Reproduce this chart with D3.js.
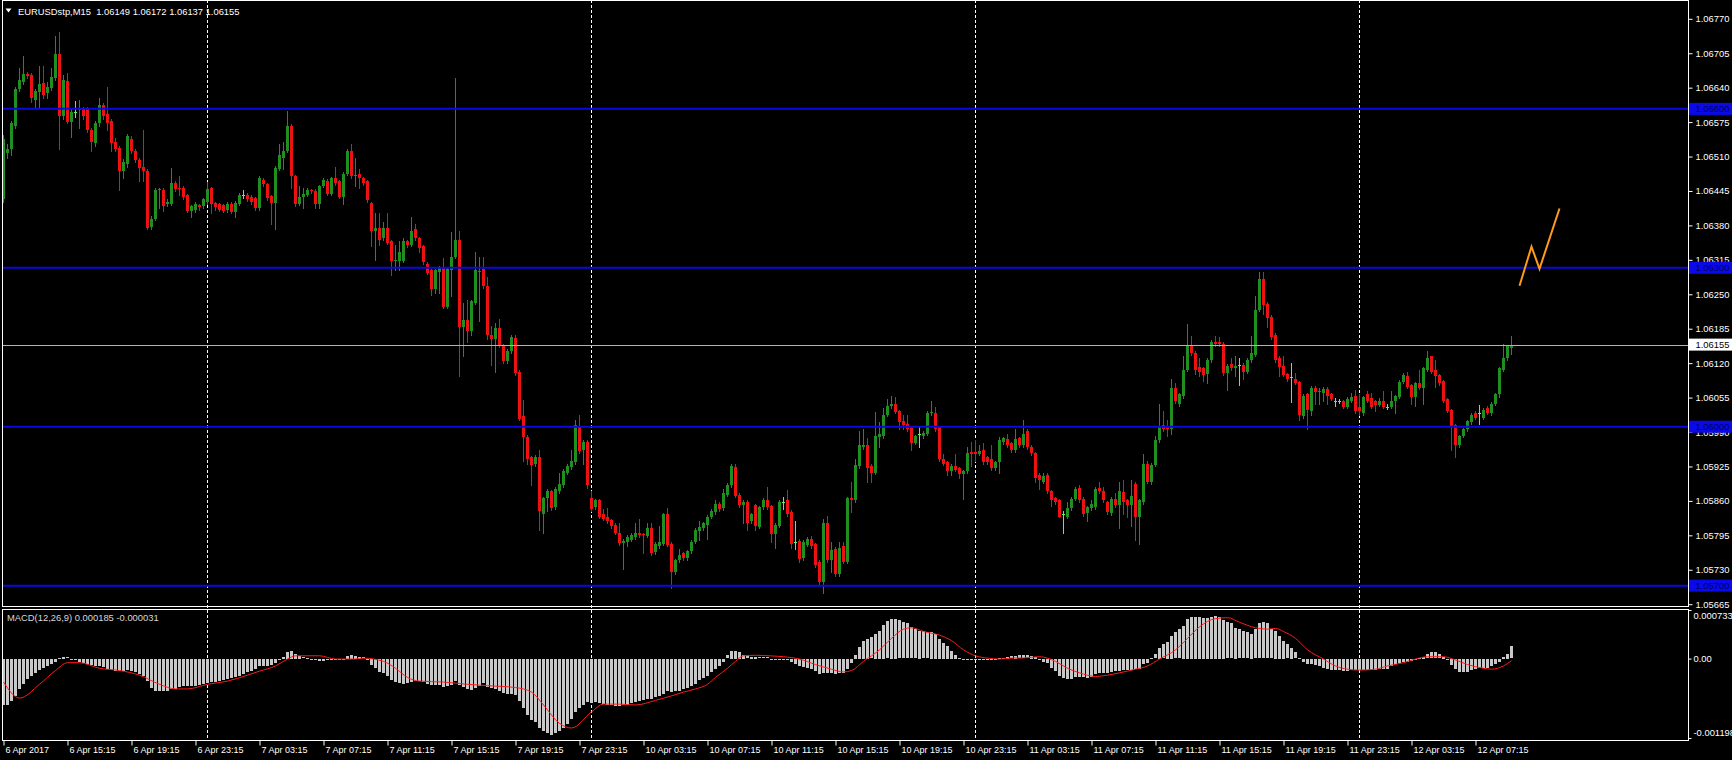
<!DOCTYPE html>
<html><head><meta charset="utf-8">
<script src="https://cdn.jsdelivr.net/npm/d3@7"></script>
<style>
html,body{margin:0;padding:0;background:#000;overflow:hidden}
svg{display:block}
text{font-family:"Liberation Sans",Arial,sans-serif}
</style>
</head><body>
<svg id="c" width="1732" height="760"></svg>
<script>
// ---------------- DATA ----------------
// OHLC values are in points (1e-5) above PRICE_BASE
const symbolName = "EURUSDstp,M15";
const PRICE_BASE = 1.05;
const opens = [
1429,1516,1525,1568,1638,1651,1666,1664,1616,1631,
1648,1629,1640,1659,1703,1587,1653,1575,1594,1597,
1599,1599,1560,1535,1573,1607,1590,1577,1538,1527,
1482,1495,1544,1521,1503,1490,1482,1377,1393,1447,
1447,1421,1421,1460,1451,1451,1438,1408,1410,1418,
1416,1425,1450,1423,1421,1418,1410,1421,1405,1421,
1438,1438,1434,1431,1412,1466,1458,1436,1423,1486,
1508,1521,1568,1473,1421,1434,1438,1446,1445,1421,
1454,1464,1440,1469,1464,1434,1477,1521,1474,1477,
1469,1464,1423,1369,1376,1356,1376,1350,1312,1312,
1312,1350,1343,1373,1356,1341,1308,1295,1260,1292,
1299,1226,1295,1321,1353,1188,1202,1180,1234,1293,
1298,1265,1173,1165,1186,1153,1124,1143,1167,1104,
1020,980,943,930,942,835,865,878,848,878,
890,913,924,933,1002,956,971,865,848,861,
835,830,824,815,800,780,783,787,792,800,
797,794,809,763,774,779,835,779,726,748,
761,752,765,783,803,809,815,830,839,855,
846,872,890,924,872,852,858,822,852,811,
848,861,850,798,813,858,861,839,783,785,
752,777,789,779,745,707,818,748,770,722,
774,745,865,861,926,961,965,926,913,980,
982,1023,1039,1043,1030,1011,1006,997,970,987,
982,987,1025,1026,1000,939,933,916,926,922,
910,916,952,952,948,956,942,939,922,933,
971,976,970,956,978,965,991,962,950,909,
896,909,878,865,861,835,830,846,864,884,
864,837,846,848,884,878,857,837,864,852,
876,861,852,891,830,858,930,896,928,974,
1004,1000,995,1074,1043,1058,1108,1153,1139,1113,
1110,1100,1126,1160,1159,1156,1101,1119,1110,1117,
1117,1104,1126,1136,1221,1278,1232,1208,1173,1130,
1115,1100,1093,1091,1084,1020,1061,1030,1074,1066,
1063,1072,1061,1048,1048,1048,1037,1048,1058,1037,
1026,1061,1055,1049,1041,1049,1037,1037,1048,1056,
1084,1095,1078,1056,1082,1074,1108,1133,1108,1098,
1087,1052,1032,1004,965,982,995,1009,1026,1026,
1017,1035,1026,1043,1061,1108,1130,1149];
const highs = [
1551,1534,1577,1642,1677,1699,1670,1668,1638,1681,
1681,1650,1677,1738,1746,1664,1668,1599,1614,1616,
1603,1603,1564,1577,1620,1612,1642,1581,1545,1530,
1505,1553,1549,1525,1507,1560,1486,1397,1451,1451,
1450,1430,1489,1464,1473,1455,1440,1418,1425,1420,
1432,1462,1453,1425,1423,1421,1425,1424,1426,1442,
1447,1442,1437,1434,1473,1470,1460,1438,1492,1534,
1538,1596,1572,1476,1455,1451,1451,1449,1448,1457,
1470,1467,1472,1490,1466,1480,1525,1534,1508,1486,
1472,1466,1425,1403,1403,1386,1403,1352,1343,1351,
1356,1352,1395,1382,1358,1343,1310,1297,1297,1304,
1318,1300,1367,1659,1370,1234,1239,1240,1330,1321,
1321,1282,1191,1195,1204,1156,1147,1173,1173,1108,
1050,985,945,947,956,868,882,881,886,913,
920,929,956,1013,1022,974,974,878,864,864,
844,846,826,818,818,788,795,799,818,826,
800,818,818,782,813,838,846,782,751,770,
764,768,786,808,822,821,833,844,861,858,
883,893,930,930,875,862,861,838,855,851,
865,887,852,818,861,867,881,842,822,788,
786,792,794,781,748,826,832,783,773,783,
783,868,896,939,991,995,978,929,1028,1009,
1035,1052,1058,1056,1032,1022,1022,999,985,1000,
992,1029,1048,1037,1002,948,935,929,948,924,
919,961,971,974,965,970,945,965,936,980,
981,987,972,995,981,1013,996,965,952,912,
913,912,880,868,864,841,857,867,886,890,
867,851,861,886,896,887,860,867,874,896,
900,864,900,895,864,948,936,931,982,1043,
1030,1013,1091,1082,1064,1134,1193,1171,1142,1130,
1113,1129,1163,1171,1169,1159,1118,1130,1134,1130,
1120,1129,1171,1247,1292,1292,1235,1211,1176,1133,
1134,1102,1121,1101,1086,1061,1063,1077,1076,1074,
1075,1075,1063,1055,1053,1050,1056,1063,1069,1061,
1058,1067,1063,1051,1055,1067,1042,1067,1060,1089,
1101,1104,1080,1085,1108,1113,1143,1134,1126,1100,
1089,1054,1034,1006,985,998,1013,1025,1030,1041,
1035,1039,1046,1063,1113,1156,1155,1172];
const lows = [
1425,1508,1512,1564,1633,1646,1658,1613,1603,1603,
1620,1620,1636,1655,1525,1581,1573,1547,1585,1564,
1581,1556,1521,1530,1568,1581,1560,1521,1520,1447,
1469,1490,1516,1499,1464,1464,1373,1373,1390,1412,
1408,1416,1418,1445,1438,1430,1405,1395,1406,1410,
1412,1421,1403,1410,1407,1405,1406,1403,1396,1418,
1432,1426,1421,1409,1410,1455,1428,1382,1373,1484,
1486,1518,1451,1416,1418,1412,1436,1441,1412,1412,
1452,1437,1437,1457,1431,1421,1475,1470,1455,1451,
1457,1425,1341,1315,1343,1353,1345,1286,1295,1295,
1310,1340,1341,1353,1330,1307,1288,1249,1252,1252,
1224,1224,1247,1318,1095,1134,1160,1173,1232,1199,
1262,1165,1117,1104,1150,1120,1120,1140,1098,1012,
936,930,890,926,806,800,841,843,845,875,
887,910,921,930,951,930,884,841,845,827,
823,819,809,797,777,731,774,784,789,792,
761,791,757,760,771,776,774,696,722,745,
749,749,762,780,787,806,789,827,836,841,
843,869,887,867,849,818,805,819,805,808,
845,845,783,772,810,844,832,772,770,745,
749,774,771,736,704,687,745,726,719,719,
742,742,839,858,923,958,896,896,910,961,
979,1020,1036,1025,995,995,992,956,967,961,
979,984,1022,992,936,927,909,909,916,904,
864,913,926,935,946,930,930,919,919,913,
968,962,953,953,962,962,958,947,896,883,
893,874,850,854,829,800,827,843,861,858,
832,822,843,845,875,858,835,834,849,809,
835,830,813,787,778,855,893,891,925,971,
991,982,987,1045,1039,1055,1105,1136,1100,1095,
1087,1082,1123,1153,1153,1098,1069,1107,1095,1078,
1091,1101,1123,1133,1218,1212,1188,1166,1123,1095,
1095,1087,1046,1080,1013,1017,995,1022,1043,1043,
1048,1043,1050,1039,1044,1035,1035,1046,1026,1022,
1022,1047,1035,1030,1039,1035,1033,1035,1026,1054,
1082,1073,1043,1039,1072,1043,1105,1101,1075,1078,
1046,1028,956,943,961,980,992,1006,1015,1006,
1015,1024,1023,1041,1056,1106,1126,1137];
const closes = [
1544,1525,1573,1638,1655,1666,1662,1620,1633,1646,
1627,1642,1661,1703,1586,1655,1575,1594,1594,1599,
1586,1560,1538,1573,1607,1586,1573,1535,1525,1482,
1499,1549,1521,1503,1489,1482,1376,1393,1447,1449,
1416,1425,1460,1449,1450,1434,1408,1416,1421,1414,
1429,1449,1421,1414,1410,1408,1421,1405,1423,1438,
1438,1429,1425,1412,1469,1458,1431,1423,1489,1512,
1521,1568,1473,1421,1434,1440,1447,1445,1421,1454,
1466,1440,1469,1460,1434,1477,1521,1473,1475,1469,
1460,1428,1369,1376,1353,1376,1347,1312,1315,1330,
1350,1343,1369,1356,1338,1310,1291,1260,1295,1301,
1226,1297,1321,1353,1188,1202,1180,1237,1295,1294,
1265,1173,1165,1186,1153,1124,1143,1169,1101,1015,
980,939,928,943,841,865,878,846,883,891,
917,926,935,1004,954,971,890,844,861,830,
826,822,813,800,780,785,792,796,800,796,
795,809,761,779,783,835,777,726,748,757,
752,765,783,805,811,818,830,841,855,844,
874,890,926,870,852,858,818,835,813,848,
861,848,798,815,858,858,835,779,783,751,
783,789,774,739,707,818,748,768,722,772,
745,865,861,928,965,965,922,913,982,987,
1023,1039,1043,1028,1009,1004,995,970,982,987,
989,1026,1027,995,939,930,917,926,919,910,
916,950,948,948,954,933,933,922,933,974,
978,965,956,976,965,987,961,950,904,900,
907,878,861,857,830,835,846,864,883,861,
835,848,855,883,878,861,839,864,852,878,
857,852,870,830,861,930,896,928,974,1000,
995,995,1074,1048,1061,1108,1152,1139,1108,1104,
1098,1126,1160,1156,1156,1101,1115,1110,1115,1117,
1104,1126,1139,1221,1278,1230,1205,1169,1126,1112,
1098,1091,1093,1082,1022,1058,1032,1074,1065,1068,
1072,1058,1052,1048,1048,1037,1052,1056,1030,1030,
1056,1049,1037,1041,1049,1037,1037,1049,1058,1084,
1098,1075,1056,1082,1074,1110,1130,1104,1095,1082,
1048,1030,1000,965,982,995,1011,1022,1017,1026,
1032,1026,1043,1061,1110,1130,1152,1155];

// MACD(12,26,9) main values, in 1e-6
const macdMain = [
-700,-700,-640,-560,-460,-370,-300,-250,-210,-170,
-140,-110,-80,-40,10,30,20,0,-20,-40,
-55,-70,-90,-100,-110,-120,-150,-170,-180,-180,
-175,-170,-180,-200,-230,-260,-330,-440,-480,-490,
-490,-480,-460,-450,-420,-410,-410,-410,-400,-390,
-370,-355,-350,-340,-330,-320,-300,-280,-270,-250,
-220,-200,-180,-150,-100,-110,-100,-90,-60,-20,
30,100,120,70,40,20,10,0,-20,-30,
-30,-20,-15,-10,-10,0,40,55,45,30,
20,-10,-90,-140,-190,-210,-250,-310,-350,-365,
-370,-360,-345,-330,-330,-350,-370,-390,-390,-395,
-420,-410,-390,-335,-390,-420,-450,-470,-440,-400,
-360,-420,-445,-460,-490,-520,-525,-525,-540,-630,
-735,-840,-920,-945,-1035,-1085,-1120,-1140,-1110,-1080,
-1040,-980,-910,-805,-735,-690,-650,-665,-650,-665,
-685,-690,-700,-714,-714,-700,-690,-665,-645,-630,
-615,-600,-600,-575,-560,-525,-490,-505,-490,-480,
-460,-440,-410,-370,-320,-285,-250,-200,-150,-110,
-40,50,120,120,100,60,50,30,28,20,
20,20,0,-15,-10,-7,-20,-50,-75,-105,
-125,-140,-146,-175,-225,-210,-205,-215,-225,-215,
-215,-146,-62,60,180,270,300,320,370,420,
510,560,600,600,580,550,530,470,440,420,
410,395,405,375,300,236,190,118,60,10,
-5,-5,-7,-7,-10,-14,-14,-14,-7,5,
15,28,35,42,49,49,49,42,28,-7,
-42,-62,-132,-180,-250,-284,-298,-298,-270,-270,
-270,-284,-270,-229,-215,-215,-215,-201,-187,-180,
-173,-166,-160,-146,-146,-76,-62,7,62,166,
215,257,340,395,444,492,603,631,631,631,
617,617,631,645,631,583,548,534,465,444,
409,395,375,444,534,548,534,444,423,340,
270,215,166,97,7,-42,-76,-76,-90,-111,
-132,-146,-160,-160,-173,-180,-180,-173,-173,-173,
-160,-160,-160,-160,-146,-146,-146,-111,-76,-62,
-48,-42,-28,-7,7,28,62,97,97,62,
28,-21,-90,-146,-201,-201,-201,-160,-146,-132,
-132,-132,-111,-76,-42,28,76,185];

// MACD signal line readings: [bar index, value in 1e-6]
const macdSignal = [
[0,-354],[4,-596],[9,-388],[13,-180],[16,-62],[19,-62],[24,-146],[29,-180],[34,-250],[39,-388],
[43,-458],[46,-458],[51,-388],[56,-340],[61,-250],[64,-190],[68,-111],[71,-7],[73,42],[79,42],
[83,-7],[88,-7],[90,7],[95,-42],[98,-146],[101,-284],[104,-340],[110,-354],[116,-388],[121,-409],
[128,-437],[132,-506],[135,-700],[139,-978],[142,-1047],[147,-805],[150,-687],[154,-687],[158,-700],[163,-631],
[167,-562],[170,-506],[173,-458],[176,-388],[178,-284],[181,-146],[183,-42],[185,42],[188,50],[192,40],
[195,28],[199,-7],[203,-90],[207,-160],[210,-201],[212,-180],[215,-42],[219,132],[222,305],[225,444],
[227,465],[230,409],[234,354],[237,270],[240,132],[243,42],[246,7],[249,-7],[252,7],[255,10],
[259,28],[263,-42],[266,-146],[269,-215],[273,-270],[276,-250],[279,-215],[283,-160],[286,-111],[289,-7],
[293,132],[296,305],[299,479],[303,603],[306,617],[309,548],[313,465],[316,444],[318,455],[320,409],
[323,305],[326,132],[330,-7],[333,-111],[336,-160],[339,-173],[343,-160],[346,-111],[350,-62],[353,-7],
[356,28],[360,28],[363,-21],[366,-90],[370,-146],[372,-160],[375,-111],[377,-31]];

// axis labels
const priceTicks = [1.06770,1.06705,1.06640,1.06575,1.06510,1.06445,1.06380,1.06315,1.06250,
  1.06185,1.06120,1.06055,1.05990,1.05925,1.05860,1.05795,1.05730,1.05665];
const priceRange = [1.05665, 1.06770];
const macdTicks = [0.000733, 0, -0.001198];
const macdTickLabels = ["0.000733", "0.00", "-0.001198"];
const timeTickBars = [0,16,32,48,64,80,96,112,128,144,160,176,192,208,224,240,256,272,288,304,320,336,352,368];
const timeLabels = ["6 Apr 2017","6 Apr 15:15","6 Apr 19:15","6 Apr 23:15","7 Apr 03:15","7 Apr 07:15",
  "7 Apr 11:15","7 Apr 15:15","7 Apr 19:15","7 Apr 23:15","10 Apr 03:15","10 Apr 07:15","10 Apr 11:15",
  "10 Apr 15:15","10 Apr 19:15","10 Apr 23:15","11 Apr 03:15","11 Apr 07:15","11 Apr 11:15","11 Apr 15:15",
  "11 Apr 19:15","11 Apr 23:15","12 Apr 03:15","12 Apr 07:15"];
const daySeparatorBars = [51,147,243,339];
const levelLines = [1.06600, 1.06300, 1.06000, 1.05700];
const bidPrice = 1.06155;
const zigzagBars = [379, 382, 384, 389];
const zigzagPrices = [1.06266, 1.06340, 1.06298, 1.06412];

// ---------------- DRAWING ----------------
const W = 1732, H = 760;
const LEFT = 2.5, RIGHT = 1688.5, MAIN_BOTTOM = 606.5, MACD_TOP = 609.5, MACD_BOTTOM = 740.5;
const GREEN = "#1f8f1f", RED = "#ee1111", DOJI = "#66ee66";
const N = closes.length;
const P = v => PRICE_BASE + v * 1e-5;
const fmt5 = d3.format(".5f");

const svg = d3.select("#c");
svg.append("rect").attr("width", W).attr("height", H).attr("fill", "#000");

const x = d3.scaleLinear().domain([0, 1]).range([3, 7]);       // bar index -> pixel column
const y = d3.scaleLinear().domain(priceRange).range([604.2, 18.8]);
const ym = d3.scaleLinear().domain([-0.001198, 0.000733]).range([738, 610]);

const defs = svg.append("defs");
defs.append("clipPath").attr("id", "cm").append("rect")
  .attr("x", 3).attr("y", 1).attr("width", RIGHT - 3.5).attr("height", MAIN_BOTTOM - 1.5);
defs.append("clipPath").attr("id", "cd").append("rect")
  .attr("x", 3).attr("y", MACD_TOP + 0.5).attr("width", RIGHT - 3.5).attr("height", MACD_BOTTOM - MACD_TOP - 1);

// day separators
svg.append("g").selectAll("line").data(daySeparatorBars).join("line")
  .attr("x1", d => x(d) + 0.5).attr("x2", d => x(d) + 0.5)
  .attr("y1", 0).attr("y2", MACD_BOTTOM)
  .attr("stroke", "#fff").attr("stroke-width", 1).attr("stroke-dasharray", "3,2");

// candles
const bars = d3.range(N).map(i => ({i, o: P(opens[i]), h: P(highs[i]), l: P(lows[i]), c: P(closes[i])}));
const col = d => d.c > d.o ? GREEN : (d.c < d.o ? RED : DOJI);
const gC = svg.append("g").attr("clip-path", "url(#cm)").attr("shape-rendering", "crispEdges");
gC.selectAll("line").data(bars).join("line")
  .attr("x1", d => x(d.i) + 0.5).attr("x2", d => x(d.i) + 0.5)
  .attr("y1", d => Math.round(y(Math.max(d.h, d.o, d.c)))).attr("y2", d => Math.round(y(Math.min(d.l, d.o, d.c))) + 1)
  .attr("stroke", col).attr("stroke-width", 1);
gC.selectAll("rect").data(bars).join("rect")
  .attr("x", d => x(d.i) - 1).attr("width", 3)
  .attr("y", d => Math.round(y(Math.max(d.o, d.c))))
  .attr("height", d => Math.max(1, Math.round(y(Math.min(d.o, d.c))) - Math.round(y(Math.max(d.o, d.c)))))
  .attr("fill", col);

// bid line
svg.append("line").attr("x1", LEFT).attr("x2", RIGHT).attr("y1", Math.round(y(bidPrice)) + 0.5).attr("y2", Math.round(y(bidPrice)) + 0.5)
  .attr("stroke", "#b4b4b4").attr("stroke-width", 1);

// level lines
svg.append("g").selectAll("line").data(levelLines).join("line")
  .attr("x1", LEFT).attr("x2", RIGHT).attr("y1", d => y(d)).attr("y2", d => y(d))
  .attr("stroke", "#0a0ae0").attr("stroke-width", 2);

// zigzag
svg.append("path").datum(zigzagBars.map((b, k) => [b, zigzagPrices[k]]))
  .attr("d", d3.line().x(d => x(d[0]) + 0.5).y(d => y(d[1])))
  .attr("fill", "none").attr("stroke", "#ff9a1a").attr("stroke-width", 2);

// MACD histogram
const gM = svg.append("g").attr("clip-path", "url(#cd)");
gM.append("g").attr("shape-rendering", "crispEdges").selectAll("rect").data(macdMain).join("rect")
  .attr("x", (d, i) => x(i) - 1).attr("width", 3)
  .attr("y", d => Math.round(Math.min(ym(0), ym(d * 1e-6))))
  .attr("height", d => Math.max(1, Math.round(Math.abs(ym(d * 1e-6) - ym(0)))))
  .attr("fill", "#c8c8c8");
gM.append("path").datum(macdSignal)
  .attr("d", d3.line().x(d => x(d[0]) + 0.5).y(d => ym(d[1] * 1e-6)).curve(d3.curveMonotoneX))
  .attr("fill", "none").attr("stroke", "#ff1a1a").attr("stroke-width", 1);

// frames
const fr = svg.append("g").attr("stroke", "#fff").attr("stroke-width", 1).attr("fill", "none").attr("shape-rendering", "crispEdges");
fr.append("rect").attr("x", LEFT).attr("y", 0.5).attr("width", RIGHT - LEFT).attr("height", MAIN_BOTTOM - 0.5);
fr.append("rect").attr("x", LEFT).attr("y", MACD_TOP).attr("width", RIGHT - LEFT).attr("height", MACD_BOTTOM - MACD_TOP);

// price axis
const ax = svg.append("g").attr("transform", `translate(${RIGHT},0)`)
  .call(d3.axisRight(y).tickValues(priceTicks).tickFormat(fmt5).tickSizeInner(4).tickSizeOuter(0));
ax.select(".domain").remove();
ax.selectAll("line").attr("stroke", "#fff");
ax.selectAll("text").attr("fill", "#fff").attr("font-size", 9.4).attr("x", 7).attr("font-family", "Liberation Sans, Arial, sans-serif");

// level labels
const ll = svg.append("g").selectAll("g").data(levelLines).join("g");
ll.append("rect").attr("x", RIGHT + 0.5).attr("y", d => y(d) - 6).attr("width", W - RIGHT).attr("height", 12).attr("fill", "#0a0ae8");
ll.append("text").attr("x", RIGHT + 7).attr("y", d => y(d) + 3.5).attr("font-size", 9.4).attr("fill", "#00005a").text(d => fmt5(d));
// bid label
svg.append("rect").attr("x", RIGHT + 0.5).attr("y", y(bidPrice) - 6).attr("width", W - RIGHT).attr("height", 12).attr("fill", "#fff");
svg.append("text").attr("x", RIGHT + 7).attr("y", y(bidPrice) + 3.5).attr("font-size", 9.4).attr("fill", "#000").text(fmt5(bidPrice));

// MACD axis
const am = svg.append("g").attr("transform", `translate(${RIGHT},0)`)
  .call(d3.axisRight(ym).tickValues(macdTicks).tickFormat((d, i) => macdTickLabels[i]).tickSizeInner(3).tickSizeOuter(0));
am.select(".domain").remove();
am.selectAll("line").attr("stroke", "#fff");
am.selectAll("text").attr("fill", "#fff").attr("font-size", 9.4).attr("x", 5)
  .attr("dy", (d, i) => i === 0 ? "0.95em" : (i === 2 ? "-0.25em" : "0.32em"));

// time axis
const at = svg.append("g").attr("transform", `translate(0,${MACD_BOTTOM})`)
  .call(d3.axisBottom(x).tickValues(timeTickBars).tickFormat((d, i) => timeLabels[i]).tickSizeInner(5).tickSizeOuter(0));
at.select(".domain").remove();
at.selectAll("line").attr("stroke", "#fff").attr("transform", "translate(0.5,0)");
at.selectAll("text").attr("fill", "#fff").attr("font-size", 9).attr("text-anchor", "start")
  .attr("x", 2).attr("y", 6).attr("dy", "0.71em");

// title
svg.append("path").attr("d", "M5.5,8.5 L11.5,8.5 L8.5,12.5 Z").attr("fill", "#fff");
const last = bars[N - 1];
svg.append("text").attr("x", 18).attr("y", 14.5).attr("font-size", 9.4).attr("fill", "#fff")
  .attr("xml:space", "preserve").style("white-space", "pre")
  .text(`${symbolName}  ${fmt5(last.o)} ${fmt5(last.h)} ${fmt5(last.l)} ${fmt5(last.c)}`);

// MACD label
const lastSig = macdSignal[macdSignal.length - 1][1];
svg.append("text").attr("x", 7).attr("y", 621).attr("font-size", 9.4).attr("fill", "#d8d8d8")
  .text(`MACD(12,26,9) ${(macdMain[N - 1] * 1e-6).toFixed(6)} ${(lastSig * 1e-6).toFixed(6)}`);
</script>
</body></html>
